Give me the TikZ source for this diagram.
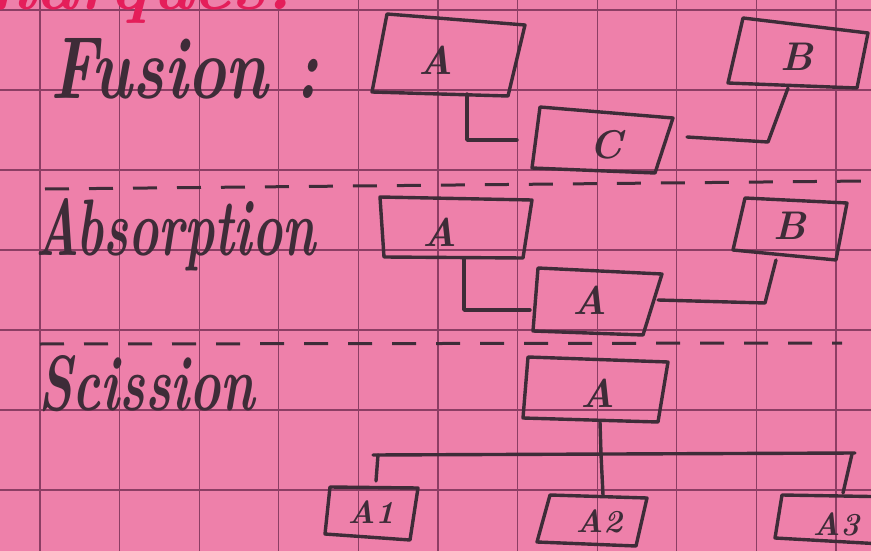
\documentclass[tikz,border=0pt]{standalone}
\usepackage{graphicx}
\definecolor{paper}{RGB}{238,128,170}
\definecolor{gridc}{RGB}{140,62,100}
\definecolor{inkc}{RGB}{62,44,56}
\definecolor{redc}{RGB}{228,30,90}
\begin{document}
\begin{tikzpicture}[x=1pt,y=-1pt,
  ink/.style={draw=inkc, line width=3.4pt, line join=round, line cap=round},
  dashline/.style={draw=inkc, line width=3pt, dash pattern=on 24pt off 20pt},
  gridline/.style={draw=gridc, line width=1.1pt},
  lbl/.style={text=inkc, font=\fontsize{40}{40}\selectfont\itshape\bfseries, inner sep=0pt},
  sublbl/.style={text=inkc, font=\fontsize{32}{32}\selectfont\itshape\bfseries, inner sep=0pt},
  title/.style={text=inkc, inner sep=0pt, anchor=base west}]
\fill[paper] (0,0) rectangle (871,551);
\useasboundingbox (0,0) rectangle (871,551);
\clip (0,0) rectangle (871,551);
% grid
\foreach \x in {40,119.6,199.2,278.8,358.4,438,517.6,597.2,676.8,756.4,836}
  \draw[gridline] (\x,0) -- (\x,551);
\foreach \y in {10,90,170,250,330,410,490}
  \draw[gridline] (0,\y) -- (871,\y);
% red title fragment (cut off at the top, as in the page)
\begin{scope}
\clip (0,0) rectangle (300,55);
\node[text=redc, anchor=base east, inner sep=0pt, font=\fontsize{72}{72}\selectfont\itshape\bfseries] (ttl) at (292,10) {Remarques.};
\end{scope}
% ---------------- Fusion
\node[title] (tFus) at (50,99) {\resizebox{268pt}{60pt}{\itshape\bfseries Fusion :}};
\draw[ink] (387,14) -- (525,25) -- (508,96) -- (372,92) -- cycle;
\node[lbl] (fA) at (436,60) {A};
\draw[ink] (743,18) -- (868,33) -- (857,88) -- (728,83) -- cycle;
\node[lbl] (fB) at (797,57) {B};
\draw[ink] (540,107) -- (673,118) -- (655,173) -- (532,168) -- cycle;
\node[lbl] (fC) at (606,145) {C};
\coordinate (fAb) at (467,94);
\coordinate (fCl) at (517,140);
\coordinate (fBb) at (788,88);
\coordinate (fBk) at (768,142);
\coordinate (fCr) at (687,137);
\draw[ink] (fAb) |- (fCl);
\draw[ink] (fBb) -- (fBk) -- (fCr);
% dashed separator 1
\draw[dashline] (45,189) -- (866,181);
% ---------------- Absorption
\node[title] (tAbs) at (35,255) {\resizebox{280pt}{57pt}{\itshape\bfseries Absorption}};
\draw[ink] (380,197) -- (532,200) -- (523,258) -- (384,257) -- cycle;
\node[lbl] (aA) at (440,232) {A};
\draw[ink] (745,198) -- (847,203) -- (836,260) -- (733,250) -- cycle;
\node[lbl] (aB) at (790,226) {B};
\draw[ink] (538,268) -- (662,274) -- (643,335) -- (533,331) -- cycle;
\node[lbl] (aR) at (590,300) {A};
\coordinate (aAb) at (464,258);
\coordinate (aRl) at (530,310);
\coordinate (aBb) at (776,260);
\coordinate (aBk) at (765,303);
\coordinate (aRr) at (658,300);
\draw[ink] (aAb) |- (aRl);
\draw[ink] (aBb) -- (aBk) -- (aRr);
% dashed separator 2
\draw[dashline] (40,344) -- (842,343);
% ---------------- Scission
\node[title] (tSci) at (38,410) {\resizebox{217pt}{55pt}{\itshape\bfseries Scission}};
\draw[ink] (528,357) -- (668,362) -- (658,422) -- (523,418) -- cycle;
\node[lbl] (sA) at (598,393) {A};
\coordinate (sAb) at (600,422);
\coordinate (sJ) at (601,454);
\coordinate (sL) at (373,455);
\coordinate (sR) at (855,453);
\draw[ink] (sAb) -- (sJ);
\draw[ink] (sL) -- (sR);
% A1
\draw[ink] (330,487) -- (418,488) -- (410,540) -- (325,534) -- cycle;
\node[sublbl] (s1) at (371,512) {A1};
\coordinate (s1t) at (376,481);
\draw[ink] (378,455) -- (s1t);
% A2
\draw[ink] (550,495) -- (647,498) -- (636,546) -- (537,542) -- cycle;
\node[sublbl] (s2) at (599,521) {A2};
\coordinate (s2t) at (603,495);
\draw[ink] (sJ) -- (s2t);
% A3
\draw[ink] (900,497) -- (782,495) -- (775,538) -- (900,545);
\node[sublbl] (s3) at (836,524) {A3};
\coordinate (s3t) at (843,493);
\draw[ink] (852,454) -- (s3t);
\end{tikzpicture}
\end{document}
